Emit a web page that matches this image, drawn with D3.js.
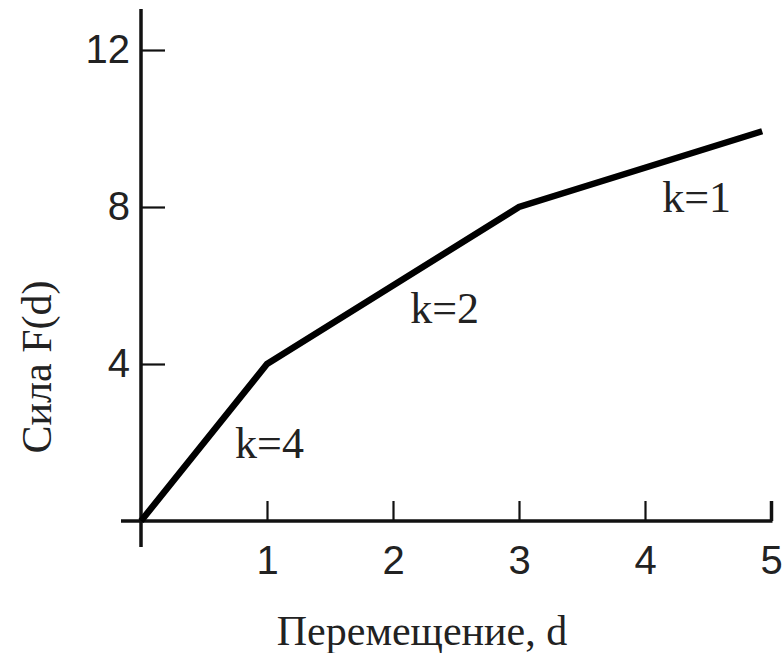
<!DOCTYPE html>
<html>
<head>
<meta charset="utf-8">
<script src="https://cdn.jsdelivr.net/npm/d3@7"></script>
<style>
  body { margin: 0; background: #fff; }
</style>
</head>
<body>
<svg width="784" height="653"></svg>
<script>
// piecewise linear force curve F(d)
var dispVals = [0, 1, 3, 4.93];
var forceVals = [0, 4, 8, 9.93];
var xTicks = [1, 2, 3, 4, 5];
var yTicks = [4, 8, 12];
var slopeLabels = ["k=4", "k=2", "k=1"];
var slopeLabelD = [1.02, 2.41, 4.41];
var slopeLabelF = [1.6, 5.04, 7.87];
var xTitle = "Перемещение, d";
var yTitle = "Сила F(d)";

var svg = d3.select("svg");

var x = d3.scaleLinear().domain([0, 5]).range([141, 771]);
var y = d3.scaleLinear().domain([0, 12]).range([521, 50]);

var ink = "#111";

// axis lines
svg.append("line")
   .attr("x1", x(0)).attr("x2", x(0))
   .attr("y1", y(12) - 41).attr("y2", y(0) + 26)
   .attr("stroke", ink).attr("stroke-width", 3.5);

svg.append("line")
   .attr("x1", x(0) - 20).attr("x2", x(5) + 1.5)
   .attr("y1", y(0)).attr("y2", y(0))
   .attr("stroke", ink).attr("stroke-width", 3.5);

// ticks + labels
var gx = svg.append("g")
   .attr("transform", "translate(0," + y(0) + ")")
   .call(d3.axisBottom(x).tickValues(xTicks).tickSize(-20).tickPadding(25).tickFormat(d3.format("d")));

var gy = svg.append("g")
   .attr("transform", "translate(" + x(0) + ",0)")
   .call(d3.axisLeft(y).tickValues(yTicks).tickSize(-24).tickPadding(11).tickFormat(d3.format("d")));

[gx, gy].forEach(function (g) {
  g.select(".domain").remove();
  g.selectAll(".tick line").attr("stroke", ink).attr("stroke-width", 2.2);
  g.selectAll(".tick text")
   .attr("fill", "#222")
   .style("font-family", "'Liberation Sans', Arial, sans-serif")
   .style("font-size", "40px");
});
gx.selectAll(".tick line").filter(function (d) { return d == 5; }).attr("stroke-width", 3.5);

// the curve
var pts = dispVals.map(function (d, i) { return [d, forceVals[i]]; });
svg.append("path")
   .datum(pts)
   .attr("fill", "none")
   .attr("stroke", "#000")
   .attr("stroke-width", 6.5)
   .attr("stroke-linejoin", "miter")
   .attr("d", d3.line().x(function (d) { return x(d[0]); }).y(function (d) { return y(d[1]); }));

// slope labels
svg.selectAll(".klab")
   .data(slopeLabels)
   .enter()
   .append("text")
   .attr("class", "klab")
   .attr("x", function (d, i) { return x(slopeLabelD[i]); })
   .attr("y", function (d, i) { return y(slopeLabelF[i]); })
   .attr("text-anchor", "middle")
   .attr("fill", "#222")
   .style("font-family", "'Liberation Serif', 'Times New Roman', serif")
   .style("font-size", "44px")
   .text(function (d) { return d; });

// axis titles
svg.append("text")
   .attr("x", 422)
   .attr("y", 645)
   .attr("text-anchor", "middle")
   .attr("fill", "#222")
   .style("font-family", "'Liberation Serif', 'Times New Roman', serif")
   .style("font-size", "42px")
   .text(xTitle);

svg.append("text")
   .attr("transform", "translate(51,367) rotate(-90)")
   .attr("text-anchor", "middle")
   .attr("fill", "#222")
   .style("font-family", "'Liberation Serif', 'Times New Roman', serif")
   .style("font-size", "42px")
   .text(yTitle);
</script>
</body>
</html>
